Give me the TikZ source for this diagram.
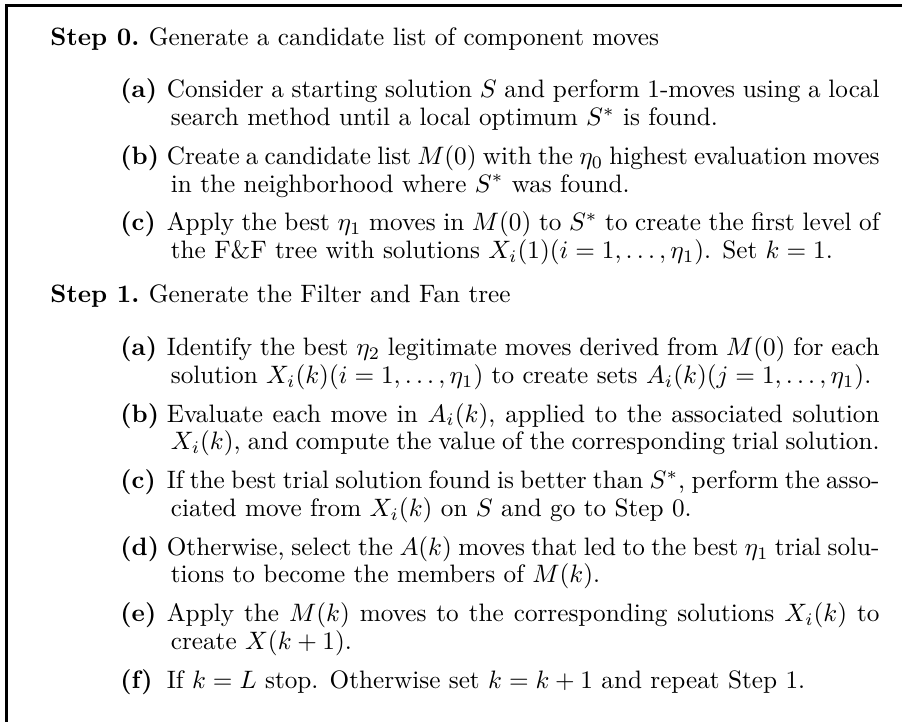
\documentclass[tikz,border=0pt]{standalone}
\usepackage{amsmath}
\tikzset{
  frameline/.style={line width=1.2pt, line cap=rect},
  steplab/.style={anchor=base west, inner sep=0pt, font=\fontsize{10}{11}\selectfont},
  itembox/.style={anchor=base west, inner sep=0pt, text width=301.2pt, align=justify, font=\fontsize{10}{11}\selectfont},
}
\newcommand{\itm}[2]{\noindent\hangindent=20pt\hangafter=1\makebox[18.4pt][l]{\textbf{(#1)}}#2\par}
\newcommand{\steplabel}[1]{\makebox[39.1pt][l]{\textbf{Step #1.}}}
\begin{document}
\begin{tikzpicture}
\useasboundingbox (0pt,0pt) rectangle (357.9pt,-286.1pt);
\coordinate (fb) at (2.5pt,-300pt);
\coordinate (fc) at (2.5pt,-2.2pt);
\coordinate (fr) at (370pt,-2.2pt);
\draw[frameline] (fb) -- (fc) -- (fr);

\node[steplab] (s0) at (19.8pt,-17.9pt) {\steplabel{0}Generate a candidate list of component moves};
\node[itembox] (s0a) at (47.6pt,-38.8pt) {\itm{a}{Consider a starting solution $S$ and perform 1-moves using a local\linebreak search method until a local optimum $S^*$ is found.}};
\node[itembox] (s0b) at (47.6pt,-65.2pt) {\itm{b}{Create a candidate list $M(0)$ with the $\eta_0$ highest evaluation moves\linebreak in the neighborhood where $S^*$ was found.}};
\node[itembox] (s0c) at (47.6pt,-91.6pt) {\itm{c}{Apply the best $\eta_1$ moves in $M(0)$ to $S^*$ to create the first level of\linebreak the F\&F tree with solutions $X_i(1)(i=1,\ldots,\eta_1)$. Set $k=1$.}};

\node[steplab] (s1) at (19.8pt,-120.2pt) {\steplabel{1}Generate the Filter and Fan tree};
\node[itembox] (s1a) at (47.6pt,-141.1pt) {\itm{a}{Identify the best $\eta_2$ legitimate moves derived from $M(0)$ for each\linebreak solution $X_i(k)(i=1,\ldots,\eta_1)$ to create sets $A_i(k)(j=1,\ldots,\eta_1)$.}};
\node[itembox] (s1b) at (47.6pt,-167.5pt) {\itm{b}{Evaluate each move in $A_i(k)$, applied to the associated solution\linebreak $X_i(k)$, and compute the value of the corresponding trial solution.}};
\node[itembox] (s1c) at (47.6pt,-193.9pt) {\itm{c}{If the best trial solution found is better than $S^*$, perform the asso-\linebreak ciated move from $X_i(k)$ on $S$ and go to Step 0.}};
\node[itembox] (s1d) at (47.6pt,-220.3pt) {\itm{d}{Otherwise, select the $A(k)$ moves that led to the best $\eta_1$ trial solu-\linebreak tions to become the members of $M(k)$.}};
\node[itembox] (s1e) at (47.6pt,-246.7pt) {\itm{e}{Apply the $M(k)$ moves to the corresponding solutions $X_i(k)$ to\linebreak create $X(k+1)$.}};
\node[itembox] (s1f) at (47.6pt,-273.1pt) {\itm{f}{If $k=L$ stop. Otherwise set $k=k+1$ and repeat Step 1.}};
\end{tikzpicture}
\end{document}
